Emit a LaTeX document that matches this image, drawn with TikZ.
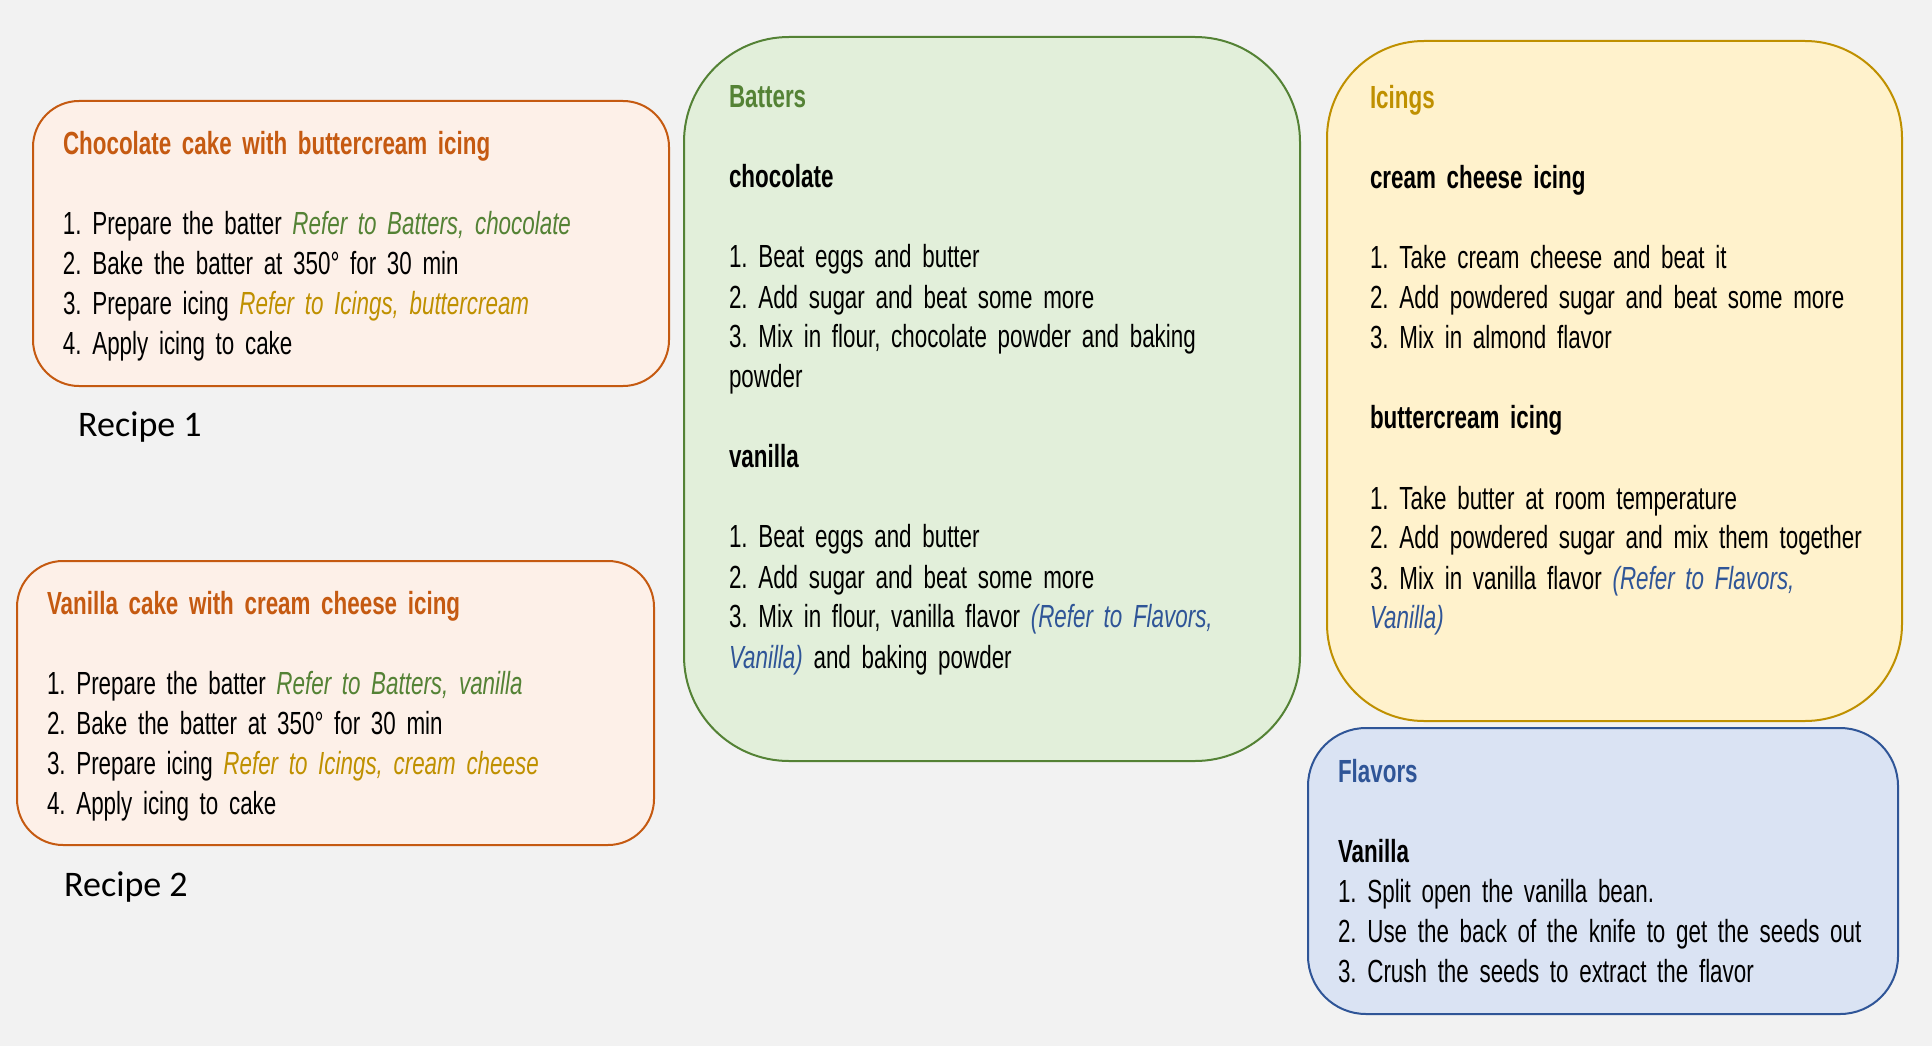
\documentclass[tikz,border=0pt]{standalone}
\usepackage{fontspec}
\newfontfamily\agency{Liberation Sans}[FakeStretch=0.70,WordSpace=0.6]
\newfontfamily\calib{Carlito}
\definecolor{bgc}{HTML}{F2F2F2}
\definecolor{orng}{HTML}{C55A11}
\definecolor{orngfill}{HTML}{FDF0E8}
\definecolor{grn}{HTML}{548235}
\definecolor{grnfill}{HTML}{E2EFDA}
\definecolor{gold}{HTML}{BF9000}
\definecolor{goldfill}{HTML}{FFF2CC}
\definecolor{blu}{HTML}{2F5597}
\definecolor{blufill}{HTML}{DAE3F3}
\tikzset{
  boxbase/.style={draw, line width=2pt, inner sep=0pt, outer sep=0pt, anchor=north west, rectangle},
  recipebox/.style={boxbase, draw=orng, fill=orngfill, rounded corners=46pt},
  batterbox/.style={boxbase, draw=grn, fill=grnfill, rounded corners=105pt},
  icingbox/.style={boxbase, draw=gold, fill=goldfill, rounded corners=97pt},
  flavorbox/.style={boxbase, draw=blu, fill=blufill, rounded corners=58pt},
  txt/.style={anchor=base west, inner sep=0pt, outer sep=0pt, text width=640pt, align=left,
    font=\agency\fontsize{32}{40}\selectfont\frenchspacing},
  lbl/.style={anchor=base west, inner sep=0pt, font=\calib\fontsize{36}{43}\selectfont},
}
\newcommand{\refg}[1]{{\itshape\color{grn}#1}}
\newcommand{\refy}[1]{{\itshape\color{gold}#1}}
\newcommand{\refb}[1]{{\itshape\color{blu}#1}}
\begin{document}
\begin{tikzpicture}[x=1pt,y=-1pt]
\fill[bgc] (0,0) rectangle (1932,1046);
\useasboundingbox (0,0) rectangle (1932,1046);

% boxes
\node[recipebox, minimum width=636pt, minimum height=285pt] (r1box) at (33,101) {};
\node[recipebox, minimum width=637pt, minimum height=284pt] (r2box) at (17,561) {};
\node[batterbox, minimum width=616pt, minimum height=724pt] (batbox) at (684,37) {};
\node[icingbox, minimum width=575pt, minimum height=680pt] (icebox) at (1327,41) {};
\node[flavorbox, minimum width=590pt, minimum height=286pt] (flabox) at (1308,728) {};

% recipe 1
\node[txt] (r1txt) at (63,154) {{\bfseries\color{orng}Chocolate cake with buttercream icing}\\[40pt]
1. Prepare the batter \refg{Refer to Batters, chocolate}\\
2. Bake the batter at 350° for 30 min\\
3. Prepare icing \refy{Refer to Icings, buttercream}\\
4. Apply icing to cake};
\node[lbl] (r1lbl) at (78,436) {Recipe 1};

% recipe 2
\node[txt] (r2txt) at (47,614) {{\bfseries\color{orng}Vanilla cake with cream cheese icing}\\[40pt]
1. Prepare the batter \refg{Refer to Batters, vanilla}\\
2. Bake the batter at 350° for 30 min\\
3. Prepare icing \refy{Refer to Icings, cream cheese}\\
4. Apply icing to cake};
\node[lbl] (r2lbl) at (64,896) {Recipe 2};

% batters
\node[txt] (battxt) at (729,108) {{\bfseries\color{grn}Batters}\\[40pt]
{\bfseries chocolate}\\[40pt]
1. Beat eggs and butter\\
2. Add sugar and beat some more\\
3. Mix in flour, chocolate powder and baking\\
powder\\[40pt]
{\bfseries vanilla}\\[40pt]
1. Beat eggs and butter\\
2. Add sugar and beat some more\\
3. Mix in flour, vanilla flavor \refb{(Refer to Flavors,}\\
\refb{Vanilla)} and baking powder};

% icings
\node[txt] (icetxt) at (1370,109) {{\bfseries\color{gold}Icings}\\[40pt]
{\bfseries cream cheese icing}\\[40pt]
1. Take cream cheese and beat it\\
2. Add powdered sugar and beat some more\\
3. Mix in almond flavor\\[40pt]
{\bfseries buttercream icing}\\[40pt]
1. Take butter at room temperature\\
2. Add powdered sugar and mix them together\\
3. Mix in vanilla flavor \refb{(Refer to Flavors,}\\
\refb{Vanilla)}};

% flavors
\node[txt] (flatxt) at (1338,782) {{\bfseries\color{blu}Flavors}\\[40pt]
{\bfseries Vanilla}\\
1. Split open the vanilla bean.\\
2. Use the back of the knife to get the seeds out\\
3. Crush the seeds to extract the flavor};
\end{tikzpicture}
\end{document}
